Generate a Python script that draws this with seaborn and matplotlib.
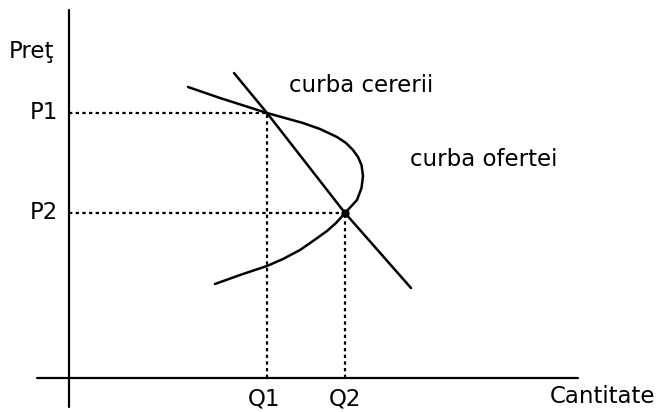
import numpy as np
import pandas as pd
import matplotlib
matplotlib.use("Agg")
import matplotlib.pyplot as plt
import seaborn as sns

####################################################################
## data (quantity / price units, origin at the axes crossing)
####################################################################
Q1, Q2 = 19.8, 27.6
P1, P2 = 26.5, 16.5

# demand: straight line through both equilibria
demand_q = [16.5, 19.8, 27.6, 34.2]
demand_p = [30.5, 26.5, 16.5, 9.0]

# supply: backward bending curve
supply_q = [11.9, 15.1, 19.8, 23.4, 25.1, 26.8, 27.7, 28.4, 28.9, 29.25, 29.4,
            29.25, 28.8, 27.6, 26.7, 25.8, 24.4, 23.1, 21.4, 19.8, 17.1, 14.6]
supply_p = [29.1, 28.0, 26.5, 25.5, 24.9, 24.1, 23.5, 22.8, 22.1, 21.3, 20.2,
            19.0, 17.8, 16.5, 15.5, 14.7, 13.7, 12.8, 11.9, 11.2, 10.3, 9.4]

sns.set_style("white")
plt.rcParams['font.family'] = ['DejaVu Sans']
plt.rcParams['text.color'] = 'black'

fig = plt.figure(figsize=(6.65, 4.12), dpi=100)
ax = fig.add_axes([0, 0, 1, 1])

# axes lines (drawn by hand, they cross each other)
ax.plot([0, 0], [-2.9, 36.8], color="black", lw=1.6)
ax.plot([-3.2, 50.9], [0, 0], color="black", lw=1.6)

# dotted guides
dots = (0, (1.5, 1.5))
ax.hlines([P1, P2], 0, [Q1, Q2], colors="black", lw=1.6, linestyles=dots)
ax.vlines([Q1, Q2], 0, [P1, P2], colors="black", lw=1.6, linestyles=dots)

demand = pd.DataFrame({"q": demand_q, "p": demand_p})
supply = pd.DataFrame({"q": supply_q, "p": supply_p})
sns.lineplot(data=demand, x="q", y="p", sort=False, estimator=None,
             color="black", lw=1.8, ax=ax)
sns.lineplot(data=supply, x="q", y="p", sort=False, estimator=None,
             color="black", lw=1.8, solid_joinstyle="round", ax=ax)
ax.plot([Q2], [P2], "o", color="black", ms=5)

ax.set_xlim(-6.9, 59.6)
ax.set_ylim(-3.4, 37.8)
ax.axis("off")

fs = 16.5
ax.text(-6.0, 32.0, "Preţ", fontsize=fs, ha="left", va="baseline")
ax.text(-1.1, P1, "P1", fontsize=fs, ha="right", va="center")
ax.text(-1.1, P2, "P2", fontsize=fs, ha="right", va="center")
ax.text(Q1 - 0.3, -0.9, "Q1", fontsize=fs, ha="center", va="top")
ax.text(Q2, -0.9, "Q2", fontsize=fs, ha="center", va="top")
ax.text(48.1, -2.5, "Cantitate", fontsize=fs, ha="left", va="baseline")
ax.text(22.0, 28.6, "curba cererii", fontsize=fs, ha="left", va="baseline")
ax.text(34.1, 21.2, "curba ofertei", fontsize=fs, ha="left", va="baseline")

fig.savefig("out.png", dpi=100)
